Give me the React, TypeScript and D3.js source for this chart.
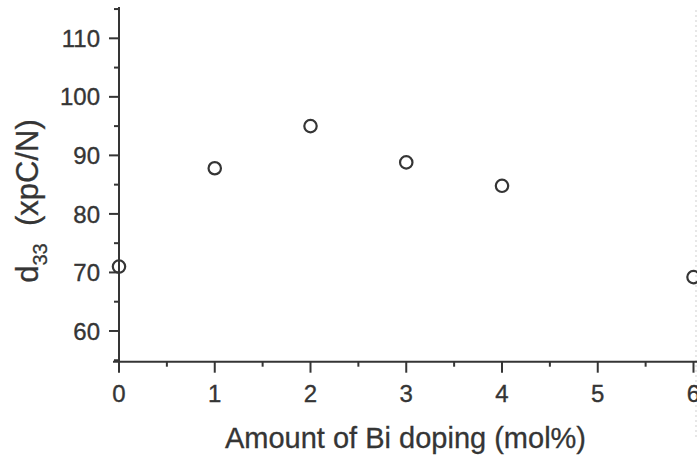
import React from "react";
import * as d3 from "d3";

const dopingX = [0, 1, 2, 3, 4, 6];
const d33Values = [71.0, 87.8, 95.0, 88.8, 84.8, 69.2];
const xMajorTicks = [0, 1, 2, 3, 4, 5, 6];
const xMinorTicks = [0.5, 1.5, 2.5, 3.5, 4.5, 5.5];
const yMajorTicks = [60, 70, 80, 90, 100, 110];
const yMinorTicks = [55, 65, 75, 85, 95, 105, 115];

const W = 697;
const H = 460;
const FONT = "'Liberation Sans', Arial, Helvetica, sans-serif";
const INK = "#353535";

export default function App() {
  const x = d3.scaleLinear().domain([0, 6]).range([119, 693.5]);
  const y = d3.scaleLinear().domain([54.75, 115.35]).range([361.7, 7]);
  const x0 = x(0);
  const yb = y(54.75);

  return (
    <svg
      width={W}
      height={H}
      style={{ position: "absolute", left: 0, top: 0, background: "#fff" }}
      fontFamily={FONT}
    >
      <rect x={0} y={0} width={W} height={H} fill="#fff" />
      {/* faint right border */}
      <line x1={696} x2={696} y1={10} y2={440} stroke="#cfcfcf" strokeWidth={1} strokeDasharray="2,3" />

      {/* y axis */}
      <line x1={x0} x2={x0} y1={y(115.35)} y2={yb} stroke={INK} strokeWidth={2} />
      {yMajorTicks.map((t) => (
        <g key={"ym" + t}>
          <line x1={x0 - 10} x2={x0} y1={y(t)} y2={y(t)} stroke={INK} strokeWidth={2} />
          <text x={100} y={y(t)} dy="0.36em" textAnchor="end" fontSize={24} fill={INK} stroke={INK} strokeWidth={0.35}>
            {t}
          </text>
        </g>
      ))}
      {yMinorTicks.map((t) => (
        <line key={"yn" + t} x1={x0 - 5} x2={x0} y1={y(t)} y2={y(t)} stroke={INK} strokeWidth={2} />
      ))}

      {/* x axis */}
      <line x1={x0 - 6} x2={W} y1={yb} y2={yb} stroke={INK} strokeWidth={2} />
      {xMajorTicks.map((t) => (
        <g key={"xm" + t}>
          <line x1={x(t)} x2={x(t)} y1={yb} y2={yb + 11} stroke={INK} strokeWidth={2} />
          <text x={x(t)} y={401.5} textAnchor="middle" fontSize={24} fill={INK} stroke={INK} strokeWidth={0.35}>
            {t}
          </text>
        </g>
      ))}
      {xMinorTicks.map((t) => (
        <line key={"xn" + t} x1={x(t)} x2={x(t)} y1={yb} y2={yb + 5} stroke={INK} strokeWidth={2} />
      ))}

      {/* axis titles */}
      <text x={405.5} y={448} textAnchor="middle" fontSize={29} fill={INK} stroke={INK} strokeWidth={0.3}>
        Amount of Bi doping (mol%)
      </text>
      <text
        transform={`translate(38,201) rotate(-90)`}
        textAnchor="middle"
        fontSize={31}
        fill={INK}
        stroke={INK}
        strokeWidth={0.3}
      >
        d<tspan fontSize={20} dy={9}>33</tspan>
        <tspan dy={-9}>{"\u00a0\u00a0(xpC/N)"}</tspan>
      </text>

      {/* data */}
      {dopingX.map((v, i) => (
        <circle
          key={"p" + i}
          cx={x(v)}
          cy={y(d33Values[i])}
          r={6.2}
          fill="none"
          stroke={INK}
          strokeWidth={2.2}
        />
      ))}
    </svg>
  );
}
